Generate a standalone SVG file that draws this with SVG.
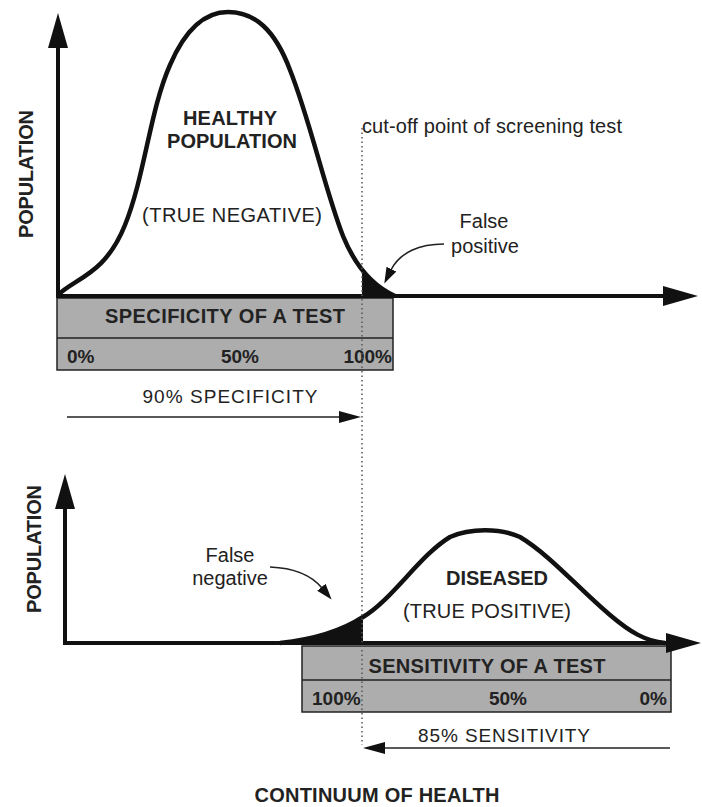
<svg xmlns="http://www.w3.org/2000/svg" width="702" height="807" viewBox="0 0 702 807">
<style>
text{font-family:"Liberation Sans",Arial,sans-serif;fill:#222;}
.b{font-weight:bold;font-size:20px;}
.r{font-size:20px;}
.r19{font-size:19px;}
.pct{font-weight:bold;font-size:19px;}
.axis{stroke:#111;stroke-width:4;fill:none;}
.curve{stroke:#111;stroke-width:4.5;fill:none;stroke-linejoin:round;}
.box{fill:#adadad;stroke:#222;stroke-width:1.5;}
.thin{stroke:#222;stroke-width:1.6;fill:none;}
.dot{stroke:#555;stroke-width:1.5;stroke-dasharray:1.5 3;fill:none;}
</style>
<defs>
<marker id="big" markerUnits="userSpaceOnUse" markerWidth="36" markerHeight="22" viewBox="0 0 36 22" refX="1" refY="11" orient="auto"><path d="M0,1 L35,11 L0,21 z" fill="#111"/></marker>
<marker id="small" markerUnits="userSpaceOnUse" markerWidth="24" markerHeight="14" viewBox="0 0 24 14" refX="1" refY="7" orient="auto"><path d="M0,1 L22,7 L0,13 z" fill="#111"/></marker>
<marker id="mid" markerUnits="userSpaceOnUse" markerWidth="18" markerHeight="14" viewBox="0 0 18 14" refX="1" refY="7" orient="auto"><path d="M0,1.5 L16,7 L0,12.5 z" fill="#111"/></marker>
<clipPath id="fpClip"><rect x="362" y="0" width="60" height="297"/></clipPath>
<clipPath id="fnClip"><rect x="260" y="400" width="103" height="243"/></clipPath>
</defs>

<g id="top-chart">
  <path d="M58,295 C75,278 105,275 125,225 C145,175 150,110 170,65 C185,30 205,12 228,12 C255,12 275,30 290,70 C310,120 325,190 343,236 C352,258 368,284 395,296 Z" fill="#111" stroke="none" clip-path="url(#fpClip)"/>
  <path class="curve" d="M58,295 C75,278 105,275 125,225 C145,175 150,110 170,65 C185,30 205,12 228,12 C255,12 275,30 290,70 C310,120 325,190 343,236 C352,258 368,284 395,296"/>
  <text class="b" transform="translate(33,174) rotate(-90)" text-anchor="middle" textLength="128">POPULATION</text>
  <text class="b" x="230" y="125" text-anchor="middle" textLength="94">HEALTHY</text>
  <text class="b" x="232" y="148" text-anchor="middle" textLength="130">POPULATION</text>
  <text class="r" font-size="18.5" x="232" y="222" text-anchor="middle" textLength="180">(TRUE NEGATIVE)</text>
  <text class="r" x="362" y="133" textLength="260">cut-off point of screening test</text>
  <text class="r" x="484" y="228" text-anchor="middle">False</text>
  <text class="r" x="485" y="253" text-anchor="middle">positive</text>
</g>

<g id="specificity-box">
  <rect class="box" x="57" y="298" width="336" height="72"/>
  <line class="box" x1="57" y1="338" x2="393" y2="338"/>
  <text class="b" x="225" y="323" text-anchor="middle" textLength="240">SPECIFICITY OF A TEST</text>
  <text class="pct" x="67" y="363">0%</text>
  <text class="pct" x="240" y="363" text-anchor="middle">50%</text>
  <text class="pct" x="392" y="363" text-anchor="end">100%</text>
  <text class="r19" x="230" y="403" text-anchor="middle" textLength="175">90% SPECIFICITY</text>
</g>

<g id="bottom-chart">
  <path d="M280,643 C310,640 340,632 363,617 C392,600 420,555 450,537 C470,528 500,528 520,537 C550,555 580,590 610,615 C630,632 645,641 665,643 Z" fill="#111" stroke="none" clip-path="url(#fnClip)"/>
  <path class="curve" d="M280,643 C310,640 340,632 363,617 C392,600 420,555 450,537 C470,528 500,528 520,537 C550,555 580,590 610,615 C630,632 645,641 665,643"/>
  <text class="b" transform="translate(41,549) rotate(-90)" text-anchor="middle" textLength="128">POPULATION</text>
  <text class="r" x="230" y="562" text-anchor="middle">False</text>
  <text class="r" x="230" y="585" text-anchor="middle">negative</text>
  <text class="b" x="497" y="585" text-anchor="middle" textLength="102">DISEASED</text>
  <text class="r" x="487" y="618" text-anchor="middle" textLength="168">(TRUE POSITIVE)</text>
</g>

<g id="sensitivity-box">
  <rect class="box" x="302" y="646" width="369" height="66"/>
  <line class="box" x1="302" y1="680" x2="671" y2="680"/>
  <text class="b" x="487" y="673" text-anchor="middle" textLength="237">SENSITIVITY OF A TEST</text>
  <text class="pct" x="312" y="705">100%</text>
  <text class="pct" x="508" y="705" text-anchor="middle">50%</text>
  <text class="pct" x="667" y="705" text-anchor="end">0%</text>
  <text class="r19" x="504" y="742" text-anchor="middle" textLength="172">85% SENSITIVITY</text>
</g>

<g id="footer">
  <text class="b" x="377" y="802" text-anchor="middle" textLength="245">CONTINUUM OF HEALTH</text>
</g>

<g id="connectors">
  <line class="axis" x1="58" y1="297" x2="58" y2="47" marker-end="url(#big)"/>
  <line class="axis" x1="56" y1="296" x2="664" y2="296" marker-end="url(#big)"/>
  <line class="axis" x1="65" y1="645" x2="65" y2="508" marker-end="url(#big)"/>
  <line class="axis" x1="63" y1="643" x2="667" y2="643" marker-end="url(#big)"/>
  <line class="thin" x1="67" y1="417" x2="340" y2="417" marker-end="url(#small)"/>
  <line class="thin" x1="670" y1="748" x2="384" y2="748" marker-end="url(#small)"/>
  <path class="thin" d="M444,244 C420,244 400,252 391,270" marker-end="url(#mid)"/>
  <path class="thin" d="M270,567 C295,568 312,576 322,588" marker-end="url(#mid)"/>
  <line class="dot" x1="362" y1="128" x2="362" y2="745"/>
</g>
</svg>
